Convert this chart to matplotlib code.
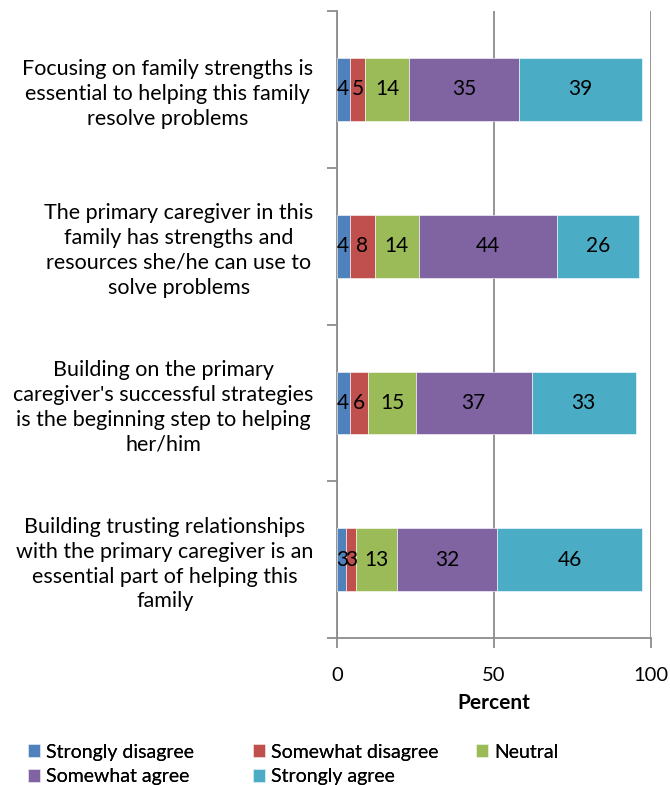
from matplotlib import pyplot as plt
import numpy as np

plt.rcParams['font.family'] = ['Lato', 'DejaVu Sans']

CATEGORIES = [
    'Focusing on family strengths is\nessential to helping this family\nresolve problems',
    'The primary caregiver in this\nfamily has strengths and\nresources she/he can use to\nsolve problems',
    "Building on the primary\ncaregiver's successful strategies\nis the beginning step to helping\nher/him",
    'Building trusting relationships\nwith the primary caregiver is an\nessential part of helping this\nfamily',
]
SERIES = ['Strongly disagree', 'Somewhat disagree', 'Neutral', 'Somewhat agree', 'Strongly agree']
VALUES = [
    [4, 4, 4, 3],
    [5, 8, 6, 3],
    [14, 14, 15, 13],
    [35, 44, 37, 32],
    [39, 26, 33, 46],
]
COLORS = ['#4F81BD', '#C0504D', '#9BBB59', '#8064A2', '#4BACC6']
GRAY = '#8c8c8c'

fig = plt.figure(figsize=(6.7, 7.85), dpi=100)
ax = fig.add_axes([0.503, 0.187, 0.469, 0.799])

y = np.arange(len(CATEGORIES))
left = np.zeros(len(CATEGORIES))
for name, vals, col in zip(SERIES, VALUES, COLORS):
    vals = np.array(vals)
    bars = ax.barh(y, vals, left=left, height=0.4, color=col, label=name,
                   edgecolor='white', linewidth=0.4, zorder=3)
    for b, v in zip(bars, vals):
        ax.text(b.get_x() + b.get_width() / 2, b.get_y() + b.get_height() / 2,
                str(v), ha='center', va='center', fontsize=15, color='black', zorder=4)
    left += vals

ax.set_xlim(0, 100)
ax.set_ylim(len(CATEGORIES) - 0.5, -0.5)
ax.set_xticks([0, 50, 100])
ax.set_xticklabels(['0', '50', '100'], fontsize=14.5)
ax.set_yticks(y)
ax.set_yticklabels(CATEGORIES, fontsize=15.5, linespacing=1.3)
for lab in ax.get_yticklabels():
    lab.set_multialignment('center')
ax.set_yticks(np.arange(-0.5, len(CATEGORIES)), minor=True)
ax.tick_params(axis='y', which='major', length=0, pad=17)
ax.tick_params(axis='y', which='minor', length=7, color=GRAY, width=1.3)
ax.tick_params(axis='x', length=7, color=GRAY, width=1.3, pad=14)
ax.set_xlabel('Percent', fontsize=15, fontweight='bold', labelpad=6)

ax.grid(axis='x', color=GRAY, linewidth=1.3, zorder=0)
for s in ['top', 'right']:
    ax.spines[s].set_visible(False)
for s in ['left', 'bottom']:
    ax.spines[s].set_color(GRAY)
    ax.spines[s].set_linewidth(1.3)

# legend laid out row by row, one legend per column
handles, labels = ax.get_legend_handles_labels()
col_x = [14, 239, 462]
for c, x0 in enumerate(col_x):
    idx = [i for i in range(len(handles)) if i % 3 == c]
    leg = fig.legend([handles[i] for i in idx], [labels[i] for i in idx],
                     loc='upper left', bbox_to_anchor=(x0 / 670, 1 - 730 / 785),
                     frameon=False, fontsize=14, handlelength=0.65, handleheight=0.65,
                     handletextpad=0.3, labelspacing=0.4, borderpad=0.2)
    fig.add_artist(leg)

plt.savefig('out.png', dpi=100)
